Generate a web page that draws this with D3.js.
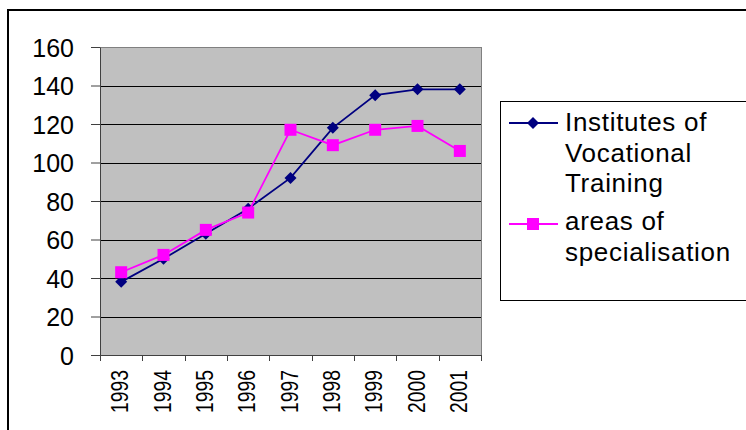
<!DOCTYPE html>
<html>
<head>
  <meta charset="utf-8">
  <title>Institutes of Vocational Training</title>
  <script src="https://d3js.org/d3.v7.min.js"></script>
  <style>
    body {
      margin: 0;
      background: #fff;
      font-family: "Liberation Sans", Arial, sans-serif;
    }
    svg { display: block; }
    .grid line {
      stroke: #000;
      stroke-width: 1;
      shape-rendering: crispEdges;
    }
  </style>
</head>
<body>
  <div id="chart"></div>

  <script>
    // chart data
    const years = ["1993", "1994", "1995", "1996", "1997", "1998", "1999", "2000", "2001"];
    const institutes = [38, 50, 63, 76, 92, 118, 135, 138, 138];
    const areas = [43, 52, 65, 74, 117, 109, 117, 119, 106];
    const yTicks = [0, 20, 40, 60, 80, 100, 120, 140, 160];
    const seriesNames = ["Institutes of|Vocational|Training", "areas of|specialisation"];

    const W = 746, H = 430;
    // plot area
    const plot = { left: 100, top: 47, right: 481, bottom: 355 };

    const svg = d3.select("#chart")
      .append("svg")
      .attr("width", W)
      .attr("height", H);

    // outer chart frame (runs off the right and bottom edges)
    svg.append("rect")
      .attr("x", 8).attr("y", 10)
      .attr("width", W + 20).attr("height", H + 20)
      .attr("fill", "#fff")
      .attr("stroke", "#000")
      .attr("stroke-width", 2);

    // scales
    const x = d3.scaleBand().domain(years).range([plot.left, plot.right]).padding(0);
    const y = d3.scaleLinear().domain([0, 160]).range([plot.bottom, plot.top]);

    // grey plot background
    svg.append("rect")
      .attr("x", plot.left).attr("y", plot.top)
      .attr("width", plot.right - plot.left)
      .attr("height", plot.bottom - plot.top)
      .attr("fill", "#c0c0c0")
      .attr("stroke", "#808080")
      .attr("stroke-width", 1)
      .attr("shape-rendering", "crispEdges");

    // horizontal gridlines
    svg.append("g").attr("class", "grid")
      .selectAll("line")
      .data(yTicks.filter(d => d > 0 && d < 160))
      .enter()
      .append("line")
      .attr("x1", plot.left).attr("x2", plot.right)
      .attr("y1", d => Math.round(y(d)) + 0.5)
      .attr("y2", d => Math.round(y(d)) + 0.5);

    // y axis
    const yAxis = svg.append("g")
      .attr("transform", `translate(${plot.left},0)`)
      .call(d3.axisLeft(y).tickValues(yTicks).tickSize(9).tickPadding(17).tickSizeOuter(0));
    yAxis.select(".domain").attr("stroke", "#404040");
    yAxis.selectAll(".tick line").attr("stroke", "#404040");
    yAxis.selectAll("text")
      .attr("font-family", "'Liberation Sans', Arial, sans-serif")
      .attr("font-size", 25)
      .attr("fill", "#000")
      .attr("dy", "0.36em");

    // x axis: ticks on band edges
    const xg = svg.append("g");
    xg.append("line")
      .attr("x1", plot.left).attr("x2", plot.right)
      .attr("y1", plot.bottom + 0.5).attr("y2", plot.bottom + 0.5)
      .attr("stroke", "#404040");
    const edges = years.map(d => x(d)).concat([plot.right]);
    xg.selectAll(".xtick")
      .data(edges)
      .enter()
      .append("line")
      .attr("x1", d => Math.round(d) + 0.5).attr("x2", d => Math.round(d) + 0.5)
      .attr("y1", plot.bottom).attr("y2", plot.bottom + 6)
      .attr("stroke", "#404040");
    xg.selectAll(".xlabel")
      .data(years)
      .enter()
      .append("text")
      .attr("transform", d => `translate(${x(d) + x.bandwidth() / 2 + 7},370) rotate(-90)`)
      .attr("text-anchor", "end")
      .attr("font-size", 24)
      .attr("textLength", 43)
      .attr("lengthAdjust", "spacingAndGlyphs")
      .text(d => d);

    const cx = d => x(d) + x.bandwidth() / 2;
    const line = d3.line().x((d, i) => cx(years[i])).y(d => y(d));

    // institutes series
    svg.append("path")
      .datum(institutes)
      .attr("fill", "none")
      .attr("stroke", "#000080")
      .attr("stroke-width", 1.8)
      .attr("d", line);
    const diamond = s => `M0,${-s}L${s},0L0,${s}L${-s},0Z`;
    svg.selectAll(".dia")
      .data(institutes)
      .enter()
      .append("path")
      .attr("transform", (d, i) => `translate(${cx(years[i])},${y(d)})`)
      .attr("d", diamond(6))
      .attr("fill", "#000080");

    // areas series
    svg.append("path")
      .datum(areas)
      .attr("fill", "none")
      .attr("stroke", "#ff00ff")
      .attr("stroke-width", 1.8)
      .attr("d", line);
    svg.selectAll(".sq")
      .data(areas)
      .enter()
      .append("rect")
      .attr("x", (d, i) => cx(years[i]) - 6)
      .attr("y", d => y(d) - 6)
      .attr("width", 12).attr("height", 12)
      .attr("fill", "#ff00ff");

    // legend
    svg.append("rect")
      .attr("x", 500.5).attr("y", 101.5)
      .attr("width", 300).attr("height", 199)
      .attr("fill", "#fff")
      .attr("stroke", "#000")
      .attr("stroke-width", 1);

    const legendItems = [
      { name: seriesNames[0], color: "#000080", marker: "diamond", y: 123, textY: 131 },
      { name: seriesNames[1], color: "#ff00ff", marker: "square", y: 224, textY: 230 }
    ];
    legendItems.forEach(item => {
      svg.append("line")
        .attr("x1", 509).attr("x2", 558)
        .attr("y1", item.y).attr("y2", item.y)
        .attr("stroke", item.color)
        .attr("stroke-width", 1.8);
      if (item.marker === "diamond") {
        svg.append("path")
          .attr("transform", `translate(533,${item.y})`)
          .attr("d", diamond(6))
          .attr("fill", item.color);
      } else {
        svg.append("rect")
          .attr("x", 527).attr("y", item.y - 6)
          .attr("width", 12).attr("height", 12)
          .attr("fill", item.color);
      }
      const t = svg.append("text")
        .attr("x", 565).attr("y", item.textY)
        .attr("font-size", 26)
        .attr("letter-spacing", 0.7);
      item.name.split("|").forEach((part, i) => {
        t.append("tspan")
          .attr("x", 565)
          .attr("y", item.textY + i * 30.5)
          .text(part);
      });
    });
  </script>
</body>
</html>
